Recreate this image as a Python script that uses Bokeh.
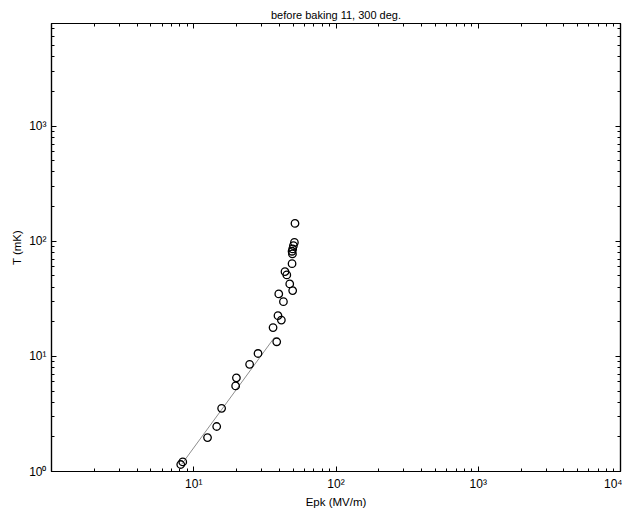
from bokeh.plotting import figure
from bokeh.models import LogAxis, FixedTicker, Range1d, Title
from bokeh.embed import file_html
from bokeh.resources import INLINE

# data
epk = [8.1, 8.37, 12.5, 14.5, 15.7, 19.7, 19.95, 24.7, 28.3, 38.3, 36.1, 41.3, 39.1,
       42.7, 39.6, 49.6, 47.3, 45.1, 43.8, 49.1, 49.4, 49.1, 49.6, 50.2, 51.0, 51.5]
temp = [1.15, 1.21, 1.97, 2.46, 3.54, 5.54, 6.51, 8.54, 10.6, 13.4, 17.8, 20.7, 22.6,
        29.9, 34.9, 37.3, 42.6, 51.0, 54.5, 63.9, 77.6, 81.9, 85.8, 91.6, 97.8, 143]
fit_x = [8.2, 36.9]
fit_y = [1.15, 14.6]

x_ticks = [10, 100, 1000, 10000]
x_tick_labels = ["10\u00b9", "10\u00b2", "10\u00b3", "10\u2074"]
y_ticks = [1, 10, 100, 1000]
y_tick_labels = ["10\u2070", "10\u00b9", "10\u00b2", "10\u00b3"]

x_minor = [m * 10 ** k for k in range(0, 4) for m in range(2, 10)]
y_minor = [m * 10 ** k for k in range(0, 4) for m in range(2, 10) if m * 10 ** k < 7800]

FONT = "Liberation Sans"

p = figure(width=622, height=512, x_axis_type="log", y_axis_type="log",
           x_range=Range1d(1, 10000), y_range=Range1d(1, 7800),
           output_backend="svg", toolbar_location=None,
           min_border_left=51, min_border_right=2, min_border_top=23, min_border_bottom=41)

p.title = Title(text="before baking 11, 300 deg.", align="center", vertical_align="top",
                text_font=FONT, text_font_size="11px", text_font_style="normal",
                text_color="black", standoff=2, offset=0)

p.grid.visible = False
p.outline_line_color = "black"
p.outline_line_width = 1.2
p.background_fill_color = "white"
p.border_fill_color = "white"

p.line(fit_x, fit_y, line_color="#808080", line_width=0.9)
p.scatter(epk, temp, marker="circle", size=7.5, fill_color=None, line_color="black", line_width=1.3)


def style(ax, ticks, minor, labels, show):
    ax.ticker = FixedTicker(ticks=ticks, minor_ticks=minor)
    ax.major_tick_in = 5
    ax.major_tick_out = 0
    ax.minor_tick_in = 3
    ax.minor_tick_out = 0
    ax.major_tick_line_color = "black"
    ax.minor_tick_line_color = "black"
    ax.axis_line_color = "black"
    ax.axis_line_width = 1.2
    ax.major_label_overrides = {t: l for t, l in zip(ticks, labels)}
    if show:
        ax.major_label_text_font = FONT
        ax.major_label_text_font_size = "12px"
        ax.major_label_text_color = "black"
        ax.axis_label_text_font = FONT
        ax.axis_label_text_font_size = "11.5px"
        ax.axis_label_text_font_style = "normal"
        ax.axis_label_text_color = "black"
    else:
        ax.major_label_text_font_size = "1px"
        ax.major_label_text_alpha = 0
        ax.major_label_standoff = 0


style(p.xaxis[0], x_ticks, x_minor, x_tick_labels, True)
style(p.yaxis[0], y_ticks, y_minor, y_tick_labels, True)
p.xaxis[0].axis_label = "Epk (MV/m)"
p.yaxis[0].axis_label = "T (mK)"
p.xaxis[0].major_label_standoff = 5
p.xaxis[0].axis_label_standoff = 2
p.yaxis[0].major_label_standoff = 5
p.yaxis[0].axis_label_standoff = 3

top = LogAxis()
right = LogAxis()
style(top, x_ticks, x_minor, x_tick_labels, False)
style(right, y_ticks, y_minor, y_tick_labels, False)
p.add_layout(top, "above")
p.add_layout(right, "right")

open("out.html", "w").write(file_html(p, INLINE))
